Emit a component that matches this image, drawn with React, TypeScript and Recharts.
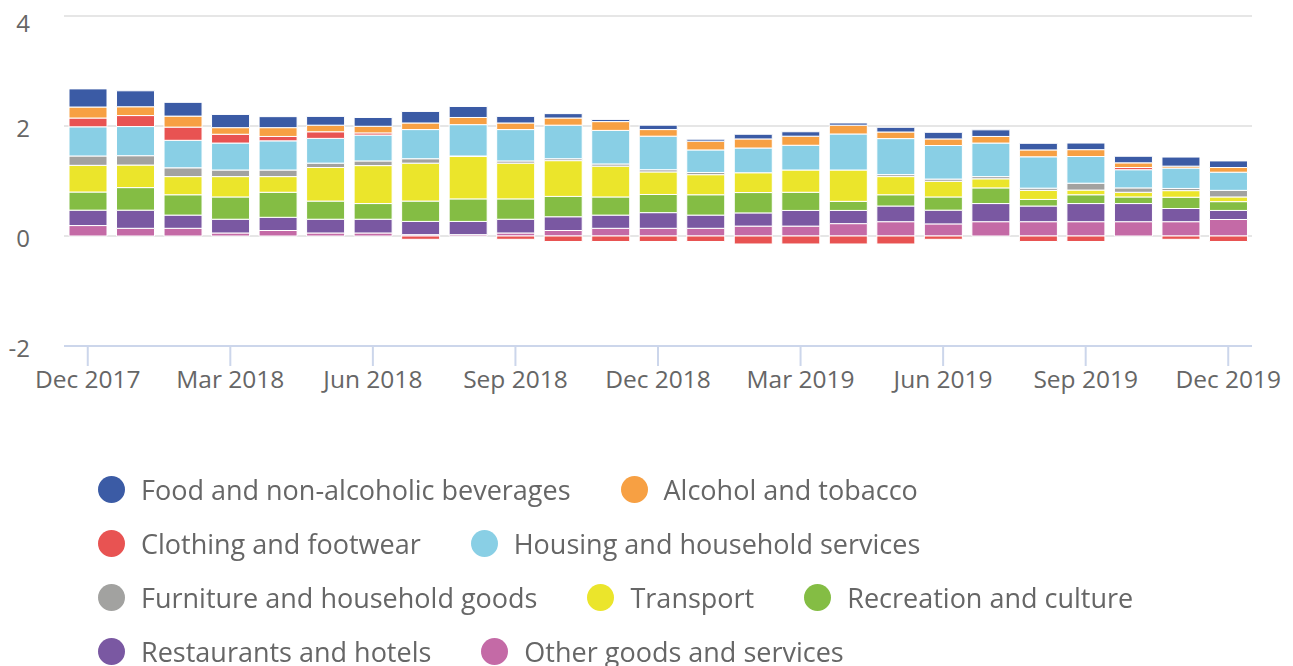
import React from 'react';
import { BarChart, Bar, XAxis, YAxis, CartesianGrid } from 'recharts';

const categories = [
  'Dec 2017', 'Jan 2018', 'Feb 2018', 'Mar 2018', 'Apr 2018', 'May 2018', 'Jun 2018',
  'Jul 2018', 'Aug 2018', 'Sep 2018', 'Oct 2018', 'Nov 2018', 'Dec 2018', 'Jan 2019',
  'Feb 2019', 'Mar 2019', 'Apr 2019', 'May 2019', 'Jun 2019', 'Jul 2019', 'Aug 2019',
  'Sep 2019', 'Oct 2019', 'Nov 2019', 'Dec 2019',
];

const food = [0.33, 0.29, 0.25, 0.24, 0.2, 0.16, 0.16, 0.21, 0.2, 0.12, 0.08, 0.04, 0.08, 0.035, 0.085, 0.08, 0.04, 0.085, 0.12, 0.12, 0.12, 0.12, 0.12, 0.165, 0.12];
const alcohol = [0.2, 0.16, 0.2, 0.12, 0.16, 0.12, 0.12, 0.12, 0.13, 0.12, 0.13, 0.16, 0.12, 0.16, 0.165, 0.165, 0.16, 0.12, 0.12, 0.12, 0.125, 0.125, 0.085, 0.035, 0.085];
const clothing = [0.16, 0.2, 0.24, 0.16, 0.08, 0.12, 0.04, -0.06, 0, -0.06, -0.1, -0.1, -0.1, -0.1, -0.145, -0.145, -0.145, -0.145, -0.06, 0, -0.1, -0.1, 0.04, -0.06, -0.1];
const housing = [0.53, 0.53, 0.5, 0.49, 0.53, 0.45, 0.47, 0.53, 0.57, 0.57, 0.61, 0.61, 0.61, 0.41, 0.45, 0.45, 0.655, 0.655, 0.61, 0.61, 0.57, 0.485, 0.33, 0.37, 0.33];
const furniture = [0.17, 0.17, 0.16, 0.12, 0.12, 0.08, 0.085, 0.08, 0.01, 0.04, 0.035, 0.04, 0.04, 0.04, 0, 0, 0, 0.036, 0.04, 0.04, 0.04, 0.125, 0.08, 0.04, 0.12];
const transport = [0.485, 0.41, 0.33, 0.37, 0.285, 0.61, 0.69, 0.69, 0.77, 0.65, 0.65, 0.56, 0.41, 0.365, 0.36, 0.405, 0.57, 0.33, 0.285, 0.165, 0.165, 0.085, 0.085, 0.12, 0.085];
const recreation = [0.33, 0.41, 0.37, 0.405, 0.455, 0.33, 0.285, 0.37, 0.41, 0.37, 0.37, 0.33, 0.33, 0.37, 0.37, 0.33, 0.165, 0.205, 0.24, 0.285, 0.12, 0.16, 0.12, 0.205, 0.16];
const restaurants = [0.28, 0.33, 0.24, 0.25, 0.24, 0.25, 0.25, 0.24, 0.24, 0.25, 0.25, 0.24, 0.285, 0.24, 0.24, 0.285, 0.24, 0.285, 0.25, 0.33, 0.285, 0.33, 0.33, 0.24, 0.165];
const other = [0.19, 0.14, 0.14, 0.055, 0.1, 0.055, 0.055, 0.025, 0.025, 0.055, 0.1, 0.14, 0.14, 0.14, 0.18, 0.18, 0.225, 0.26, 0.22, 0.26, 0.26, 0.26, 0.26, 0.26, 0.3];

const yTicks = [-2, 0, 2, 4];

// legend order (top of stack first)
const series = [
  { key: 'food', name: 'Food and non-alcoholic beverages', color: '#3b5ba5', values: food },
  { key: 'alcohol', name: 'Alcohol and tobacco', color: '#f7a043', values: alcohol },
  { key: 'clothing', name: 'Clothing and footwear', color: '#e85352', values: clothing },
  { key: 'housing', name: 'Housing and household services', color: '#89cfe5', values: housing },
  { key: 'furniture', name: 'Furniture and household goods', color: '#a2a2a0', values: furniture },
  { key: 'transport', name: 'Transport', color: '#ebe52b', values: transport },
  { key: 'recreation', name: 'Recreation and culture', color: '#84bd44', values: recreation },
  { key: 'restaurants', name: 'Restaurants and hotels', color: '#7a58a2', values: restaurants },
  { key: 'other', name: 'Other goods and services', color: '#c46aa6', values: other },
];

const data = categories.map((month, i) => {
  const row: Record<string, string | number> = { month };
  series.forEach(s => { row[s.key] = s.values[i]; });
  return row;
});

const font = '"Open Sans", sans-serif';

export default function App() {
  const stackOrder = [...series].reverse();

  return (
    <div style={{ width: 1277, height: 650, fontFamily: font }}>
      <BarChart
        width={1277}
        height={420}
        data={data}
        stackOffset="sign"
        margin={{ top: 8, right: 33, bottom: 32, left: 0 }}
      >
        <CartesianGrid vertical={false} stroke="#e6e6e6" strokeWidth={2} />
        <XAxis
          dataKey="month"
          interval={2}
          height={50}
          tickSize={20}
          tickMargin={5}
          axisLine={{ stroke: '#ccd6eb', strokeWidth: 2 }}
          tickLine={{ stroke: '#ccd6eb', strokeWidth: 2 }}
          tick={{ fontSize: 24.5, fill: '#666', fontFamily: font }}
        />
        <YAxis
          domain={[-2, 4]}
          ticks={yTicks}
          width={56}
          tickSize={0}
          tickMargin={34}
          axisLine={false}
          tickLine={false}
          tick={{ fontSize: 24, fill: '#666', fontFamily: font, dy: 2 }}
        />
        {stackOrder.map(s => (
          <Bar
            key={s.key}
            dataKey={s.key}
            name={s.name}
            stackId="a"
            fill={s.color}
            stroke="#fff"
            strokeWidth={1}
            barSize={38}
            isAnimationActive={false}
          />
        ))}
      </BarChart>

      {/* legend sits in the viewport so its last row may run off the bottom without adding scroll height */}
      <div
        style={{
          position: 'fixed',
          left: 98,
          top: 462,
          width: 1110,
          display: 'flex',
          flexWrap: 'wrap',
          fontSize: 27,
          color: '#666',
        }}
      >
        {series.map(s => (
          <div key={s.key} style={{ display: 'flex', alignItems: 'center', height: 54, marginRight: 50 }}>
            <span style={{ width: 27, height: 27, borderRadius: '50%', background: s.color, display: 'inline-block', marginRight: 16 }} />
            <span style={{ whiteSpace: 'nowrap' }}>{s.name}</span>
          </div>
        ))}
      </div>
    </div>
  );
}
